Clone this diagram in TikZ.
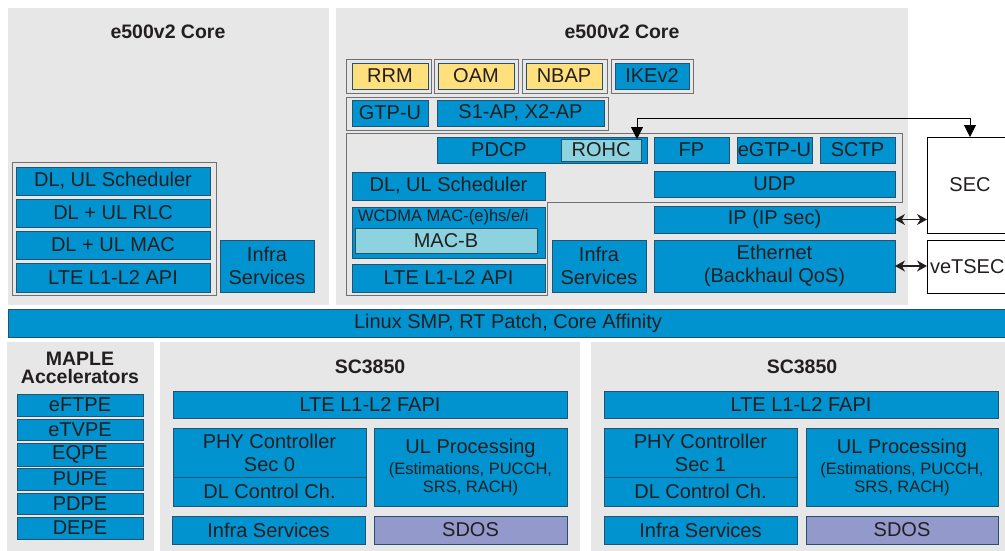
\documentclass[tikz,border=0pt]{standalone}
\usepackage{fontspec}
\setmainfont{Liberation Sans}
\usetikzlibrary{arrows.meta}
\definecolor{pblue}{HTML}{0093CF}
\definecolor{pborder}{HTML}{23536E}
\definecolor{pyellow}{HTML}{FFE07D}
\definecolor{plight}{HTML}{8CD3DF}
\definecolor{ppurple}{HTML}{9499CB}
\definecolor{pgray}{HTML}{E7E7E7}
\definecolor{ptext}{HTML}{231F20}
\definecolor{poutline}{HTML}{707070}
\tikzset{
  base/.style={inner sep=0pt, outer sep=0pt, text=ptext, align=center,
    font=\fontsize{20}{23}\selectfont},
  panel/.style={base, fill=pgray, draw=none},
  box/.style={base, draw=pborder, line width=0.9pt, fill=pblue},
  ybox/.style={box, fill=pyellow},
  lbox/.style={box, fill=plight},
  pbox/.style={box, fill=ppurple},
  wbox/.style={box, fill=white, draw=black},
  grp/.style={base, draw=poutline, line width=0.9pt},
  ttl/.style={base, font=\bfseries\fontsize{19.5}{18}\selectfont},
  small/.style={base, font=\fontsize{16.5}{18}\selectfont},
  tri/.style={line width=0.8pt, draw=black, {Triangle[length=12pt,width=12pt]}-{Triangle[length=12pt,width=12pt]}},
  dart/.style={line width=1.1pt, draw=ptext, {Stealth[length=10pt,width=11pt]}-{Stealth[length=10pt,width=11pt]}}
}
\newcommand\mybox[7]{\node[#1, minimum width={#5-#3}, minimum height={#6-#4}] (#2) at ({(#3+#5)/2},{(#4+#6)/2}) {#7};}
\begin{document}
\begin{tikzpicture}[x=1pt,y=-1pt]
\useasboundingbox (0,0) rectangle (1005,550);
\clip (0,0) rectangle (1005,550);
\fill[white] (0,0) rectangle (1005,550);
% ---------- left e500v2 core ----------
\mybox{panel}{pl}{8}{8}{329}{305}{}
\node[ttl] (tl) at (168,32) {e500v2 Core};
\mybox{grp}{gl}{12}{162}{216}{295}{}
\mybox{box}{schedA}{16}{167}{210}{195}{DL, UL Scheduler}
\mybox{box}{rlc}{16}{199}{210}{227}{DL + UL RLC}
\mybox{box}{mac}{16}{231}{210}{259}{DL + UL MAC}
\mybox{box}{apiA}{16}{263}{210}{292}{LTE L1-L2 API}
\mybox{box}{infraA}{220}{240}{314}{292}{Infra\\Services}
% ---------- right e500v2 core ----------
\mybox{panel}{pr}{336}{8}{908}{305}{}
\node[ttl] (tr) at (622,32) {e500v2 Core};
\mybox{grp}{g1}{346}{59}{431}{93}{}
\mybox{grp}{g2}{434}{59}{518}{93}{}
\mybox{grp}{g3}{522}{59}{607}{93}{}
\mybox{grp}{g4}{611}{59}{693}{93}{}
\mybox{ybox}{rrm}{352}{63}{428}{89}{RRM}
\mybox{ybox}{oam}{438}{63}{514}{89}{OAM}
\mybox{ybox}{nbap}{526}{63}{602}{89}{NBAP}
\mybox{box}{ike}{615}{63}{689}{89}{IKEv2}
\mybox{grp}{g5}{346}{97}{608}{130}{}
\mybox{box}{gtpu}{352}{100}{428}{126}{GTP-U}
\mybox{box}{s1ap}{437}{100}{604}{126}{S1-AP, X2-AP}
\draw[poutline, line width=0.9pt] (346,133) -- (902,133) -- (902,202) -- (547,202) -- (547,295) -- (346,295) -- cycle;
\mybox{box}{pdcp}{437}{137}{647}{163}{\makebox[210pt][l]{\makebox[124pt]{PDCP}}}
\mybox{lbox}{rohc}{561}{139}{641}{161}{ROHC}
\mybox{box}{fp}{654}{137}{729}{163}{FP}
\mybox{box}{egtpu}{737}{137}{812}{163}{eGTP-U}
\mybox{box}{sctp}{820}{137}{895}{163}{SCTP}
\mybox{box}{udp}{654}{171}{895}{197}{UDP}
\mybox{box}{ip}{654}{206}{895}{233}{IP (IP sec)}
\mybox{box}{eth}{654}{240}{895}{292}{Ethernet\\(Backhaul QoS)}
\mybox{box}{schedB}{352}{172}{545}{200}{DL, UL Scheduler}
\mybox{box}{wcdma}{352}{207}{545}{258}{}
\node[small, anchor=west] (wlab) at (358,217) {WCDMA MAC-(e)hs/e/i};
\mybox{lbox}{macb}{355}{228}{537}{253}{MAC-B}
\mybox{box}{apiB}{352}{264}{545}{292}{LTE L1-L2 API}
\mybox{box}{infraB}{552}{240}{646}{292}{Infra\\Services}
% ---------- SEC / veTSEC ----------
\mybox{wbox}{sec}{927}{137}{1013}{233}{SEC}
\mybox{wbox}{vetsec}{927}{240}{1013}{293}{\makebox[86pt][l]{\hspace{3pt}veTSEC}}
\draw[tri] ([xshift=-4pt]rohc.north east) |- ([yshift=19pt]sec.north) -- (sec.north);
\draw[dart] (ip.east) -- (sec.west |- ip.east);
\draw[dart] (eth.east) -- (vetsec.west |- eth.east);
% ---------- Linux bar ----------
\mybox{box}{linux}{8}{309}{1008}{337}{Linux SMP, RT Patch, Core Affinity}
% ---------- MAPLE ----------
\mybox{panel}{pm}{7}{342}{154}{555}{}
\node[ttl] (tm) at (80,368) {MAPLE\\Accelerators};
\mybox{box}{eftpe}{17}{394}{143}{416}{eFTPE}
\mybox{box}{etvpe}{17}{419}{143}{440}{eTVPE}
\mybox{box}{eqpe}{17}{443}{143}{466}{EQPE}
\mybox{box}{pupe}{17}{468}{143}{490}{PUPE}
\mybox{box}{pdpe}{17}{493}{143}{514}{PDPE}
\mybox{box}{depe}{17}{517}{143}{539}{DEPE}
% ---------- SC3850 #1 ----------
\mybox{panel}{ps1}{160}{342}{580}{555}{}
\node[ttl] (ts1) at (370,367) {SC3850};
\mybox{box}{fapiA}{173}{391}{567}{418}{LTE L1-L2 FAPI}
\mybox{box}{phyA}{173}{428}{366}{477}{PHY Controller\\Sec 0}
\mybox{box}{dlcA}{173}{477}{366}{506}{DL Control Ch.}
\mybox{box}{ulA}{374}{428}{567}{506}{UL Processing\\[-2pt]{\fontsize{16.5}{18}\selectfont (Estimations, PUCCH,}\\[-5pt]{\fontsize{16.5}{18}\selectfont SRS, RACH)}}
\mybox{box}{infraC}{172}{516}{365}{544}{Infra Services}
\mybox{pbox}{sdosA}{374}{516}{567}{544}{SDOS}
% ---------- SC3850 #2 ----------
\mybox{panel}{ps2}{591}{342}{1013}{555}{}
\node[ttl] (ts2) at (802,367) {SC3850};
\mybox{box}{fapiB}{604}{391}{998}{418}{LTE L1-L2 FAPI}
\mybox{box}{phyB}{604}{428}{797}{477}{PHY Controller\\Sec 1}
\mybox{box}{dlcB}{604}{477}{797}{506}{DL Control Ch.}
\mybox{box}{ulB}{806}{428}{998}{506}{UL Processing\\[-2pt]{\fontsize{16.5}{18}\selectfont (Estimations, PUCCH,}\\[-5pt]{\fontsize{16.5}{18}\selectfont SRS, RACH)}}
\mybox{box}{infraD}{604}{516}{797}{544}{Infra Services}
\mybox{pbox}{sdosB}{806}{516}{998}{544}{SDOS}
\end{tikzpicture}
\end{document}
